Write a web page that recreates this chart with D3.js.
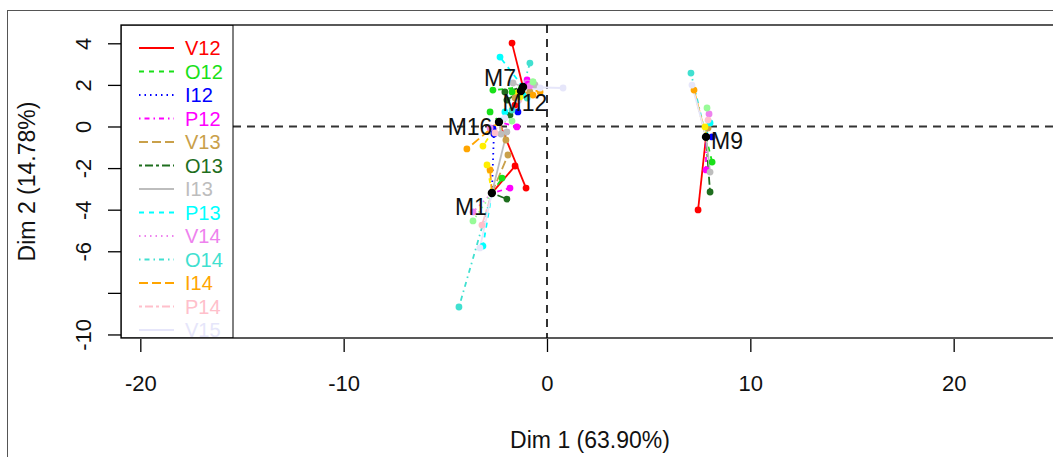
<!DOCTYPE html>
<html>
<head>
<meta charset="utf-8">
<script src="https://cdn.jsdelivr.net/npm/d3@7"></script>
<style>
  body { margin: 0; background: #fff; }
  text { font-family: "Liberation Sans", Arial, sans-serif; }
</style>
</head>
<body>
<div id="graph"></div>
<script>
window.onload = start;

// individuals and their mean coordinates
var individuals = ["M1", "M7", "M9", "M12", "M16"];
var meanX = [-2.71, -1.18, 7.82, -1.28, -2.36];
var meanY = [-3.20, 1.90, -0.50, 1.71, 0.22];

// groups (legend order)
var groups = ["V12", "O12", "I12", "P12", "V13", "O13", "I13", "P13", "V14", "O14", "I14", "P14", "V15", "O15", "I15"];

// partial points, one array per individual, in group order
var partialX = {
    M1:  [-1.57, -2.21, -2.61, -1.82, -1.92, -1.97, -1.97, -3.15, -3.64, -4.33, -2.80, -3.20, -3.30, -2.95, -3.64],
    M7:  [-1.72, -2.66, -1.48, -0.98, -0.84, -2.07, -1.67, -2.31, -0.98, -0.84, -0.34, -1.33, 0.79, -1.50, -0.69],
    M9:  [7.43, 8.12, 8.12, 7.82, 7.92, 8.02, 8.02, 8.02, 7.97, 7.08, 7.23, 7.92, 7.13, 7.77, 7.87],
    M12: [-1.57, -1.72, -1.43, -0.93, -1.57, -1.97, -0.59, -1.18, -0.84, -0.98, -0.69, -1.38, -0.34, -1.33, -0.69],
    M16: [-1.03, -2.80, -2.66, -1.48, -2.02, -1.82, -2.26, -2.07, -2.80, -1.72, -3.94, -2.56, -2.07, -3.15, -1.72]
};
var partialY = {
    M1:  [-1.90, -2.48, -0.36, -2.96, -1.37, -3.49, -0.26, -5.75, -4.11, -8.68, -2.09, -4.74, -5.84, -1.85, -4.54],
    M7:  [4.01, 1.75, 1.47, 2.24, 1.66, 1.66, 2.09, 3.34, 2.09, 3.05, 1.66, 1.51, 1.85, 1.60, 2.14],
    M9:  [-4.01, -1.71, -0.50, -2.09, -0.07, -3.15, -2.19, 0.17, 0.60, 2.57, 1.75, 0.31, 1.99, -0.02, 0.89],
    M12: [1.03, 1.66, 0.70, 2.04, 1.37, 1.27, 2.00, 1.51, 1.95, 1.37, 1.51, 1.27, 1.85, 1.42, 2.14],
    M16: [-2.96, 0.70, -0.12, -0.02, -0.65, 0.55, -0.36, 0.70, -0.07, 0.79, -1.08, -0.31, 0.41, -0.94, 0.26]
};

var xTicks = [-20, -10, 0, 10, 20];
var yTicks = [-10, -8, -6, -4, -2, 0, 2, 4];
var yTickLabels = ["-10", "", "-6", "-4", "-2", "0", "2", "4"];
var xTitle = "Dim 1 (63.90%)";
var yTitle = "Dim 2 (14.78%)";

// styles
var groupColors = ["#ff0000", "#19e019", "#0000ff", "#ff00ff", "#c9a04a", "#1e6e1e", "#bdbdbd", "#00ffff",
    "#ee82ee", "#40e0d0", "#ffa500", "#ffc0cb", "#e6e6fa", "#ffee00", "#98fb98"];
var dashes = ["", "5,5", "1.5,4", "1.5,4,5,4", "9,4", "3,3,8,3"];
var labelOffset = {M1: [-21, 14], M7: [-23, -9], M9: [21, 4], M12: [4, 12], M16: [-29, 5]};

var svg, xScale, yScale;
var width = 1053, height = 457;
var box = {left: 121, right: 1059, top: 25, bottom: 338};

function start() {
    svg = d3.select("#graph").append("svg")
        .attr("width", width)
        .attr("height", height);

    // outer frame
    svg.append("rect")
        .attr("x", 7.5).attr("y", 10.5)
        .attr("width", 1100).attr("height", 500)
        .attr("fill", "none").attr("stroke", "#555");

    xScale = d3.scaleLinear().domain([-20.95, 25.18]).range([box.left, box.right]);
    yScale = d3.scaleLinear().domain([-10.17, 4.88]).range([box.bottom, box.top]);

    svg.append("clipPath").attr("id", "plotclip")
        .append("rect")
        .attr("x", box.left).attr("y", box.top)
        .attr("width", box.right - box.left).attr("height", box.bottom - box.top);

    var plot = svg.append("g").attr("clip-path", "url(#plotclip)");

    // reference lines
    plot.append("line")
        .attr("x1", box.left).attr("x2", box.right)
        .attr("y1", yScale(0)).attr("y2", yScale(0))
        .attr("stroke", "#333").attr("stroke-width", 2).attr("stroke-dasharray", "8,6");
    plot.append("line")
        .attr("x1", xScale(0)).attr("x2", xScale(0))
        .attr("y1", box.top).attr("y2", box.bottom)
        .attr("stroke", "#333").attr("stroke-width", 2).attr("stroke-dasharray", "8,6");

    // partial lines then points
    var segs = [];
    individuals.forEach(function(ind, i) {
        groups.forEach(function(g, j) {
            segs.push({ind: ind, g: j, x0: meanX[i], y0: meanY[i], x1: partialX[ind][j], y1: partialY[ind][j]});
        });
    });

    plot.selectAll(".seg")
        .data(segs)
        .enter()
        .append("line")
        .attr("class", "seg")
        .attr("x1", function(d) { return xScale(d.x0) })
        .attr("y1", function(d) { return yScale(d.y0) })
        .attr("x2", function(d) { return xScale(d.x1) })
        .attr("y2", function(d) { return yScale(d.y1) })
        .attr("stroke", function(d) { return groupColors[d.g] })
        .attr("stroke-width", 1.8)
        .attr("stroke-dasharray", function(d) { return dashes[d.g % 6] });

    plot.selectAll(".partial")
        .data(segs)
        .enter()
        .append("circle")
        .attr("class", "partial")
        .attr("r", 3.4)
        .attr("cx", function(d) { return xScale(d.x1) })
        .attr("cy", function(d) { return yScale(d.y1) })
        .attr("fill", function(d) { return groupColors[d.g] });

    plot.selectAll(".mean")
        .data(individuals)
        .enter()
        .append("circle")
        .attr("class", "mean")
        .attr("r", 4.2)
        .attr("cx", function(d, i) { return xScale(meanX[i]) })
        .attr("cy", function(d, i) { return yScale(meanY[i]) })
        .attr("fill", "#000");

    plot.selectAll(".lab")
        .data(individuals)
        .enter()
        .append("text")
        .attr("class", "lab")
        .attr("x", function(d, i) { return xScale(meanX[i]) + labelOffset[d][0] })
        .attr("y", function(d, i) { return yScale(meanY[i]) + labelOffset[d][1] })
        .attr("text-anchor", "middle")
        .attr("dominant-baseline", "central")
        .style("font-size", "23px")
        .attr("fill", "#111")
        .text(function(d) { return d });

    // legend
    var legend = svg.append("g").attr("clip-path", "url(#plotclip)");
    legend.append("rect")
        .attr("x", box.left).attr("y", box.top)
        .attr("width", 112).attr("height", box.bottom - box.top)
        .attr("fill", "#fff").attr("stroke", "#000");
    var item = legend.selectAll(".item")
        .data(groups)
        .enter()
        .append("g")
        .attr("class", "item")
        .attr("transform", function(d, i) { return "translate(0," + (48 + i * 23.5) + ")" });
    item.append("line")
        .attr("x1", 139).attr("x2", 174)
        .attr("stroke", function(d, i) { return groupColors[i] })
        .attr("stroke-width", 1.8)
        .attr("stroke-dasharray", function(d, i) { return dashes[i % 6] });
    item.append("text")
        .attr("x", 185)
        .attr("dominant-baseline", "central")
        .style("font-size", "20px")
        .attr("fill", function(d, i) { return groupColors[i] })
        .text(function(d) { return d });

    // plot box
    svg.append("rect")
        .attr("x", box.left).attr("y", box.top)
        .attr("width", box.right - box.left).attr("height", box.bottom - box.top)
        .attr("fill", "none").attr("stroke", "#000").attr("stroke-width", 1.3);

    // axes
    var xAxis = d3.axisBottom(xScale).tickValues(xTicks).tickSize(13)
        .tickFormat(function(d) { return String(d) });
    var xg = svg.append("g")
        .attr("transform", "translate(0," + (box.bottom + 1) + ")")
        .call(xAxis);
    xg.select(".domain").remove();
    xg.selectAll("line").attr("stroke-width", 1.3);
    xg.selectAll("text")
        .attr("y", 44).attr("dy", null)
        .attr("dominant-baseline", "central")
        .style("font-size", "22px")
        .style("font-family", "Liberation Sans, Arial, sans-serif")
        .attr("fill", "#111");

    var yAxis = d3.axisLeft(yScale).tickValues(yTicks).tickSize(13)
        .tickFormat(function(d, i) { return yTickLabels[i] });
    var yg = svg.append("g")
        .attr("transform", "translate(" + box.left + ",0)")
        .call(yAxis);
    yg.select(".domain").remove();
    yg.selectAll("line").attr("stroke-width", 1.3);
    yg.selectAll("text")
        .attr("transform", "rotate(-90)")
        .attr("x", 0).attr("y", -38).attr("dy", null)
        .attr("text-anchor", "middle")
        .attr("dominant-baseline", "central")
        .style("font-size", "22px")
        .style("font-family", "Liberation Sans, Arial, sans-serif")
        .attr("fill", "#111");

    svg.append("text")
        .attr("x", (box.left + box.right) / 2).attr("y", 440)
        .attr("text-anchor", "middle")
        .attr("dominant-baseline", "central")
        .style("font-size", "23px")
        .attr("fill", "#111")
        .text(xTitle);

    svg.append("text")
        .attr("transform", "translate(27," + ((box.top + box.bottom) / 2) + ") rotate(-90)")
        .attr("text-anchor", "middle")
        .attr("dominant-baseline", "central")
        .style("font-size", "23px")
        .attr("fill", "#111")
        .text(yTitle);
}
</script>
</body>
</html>
